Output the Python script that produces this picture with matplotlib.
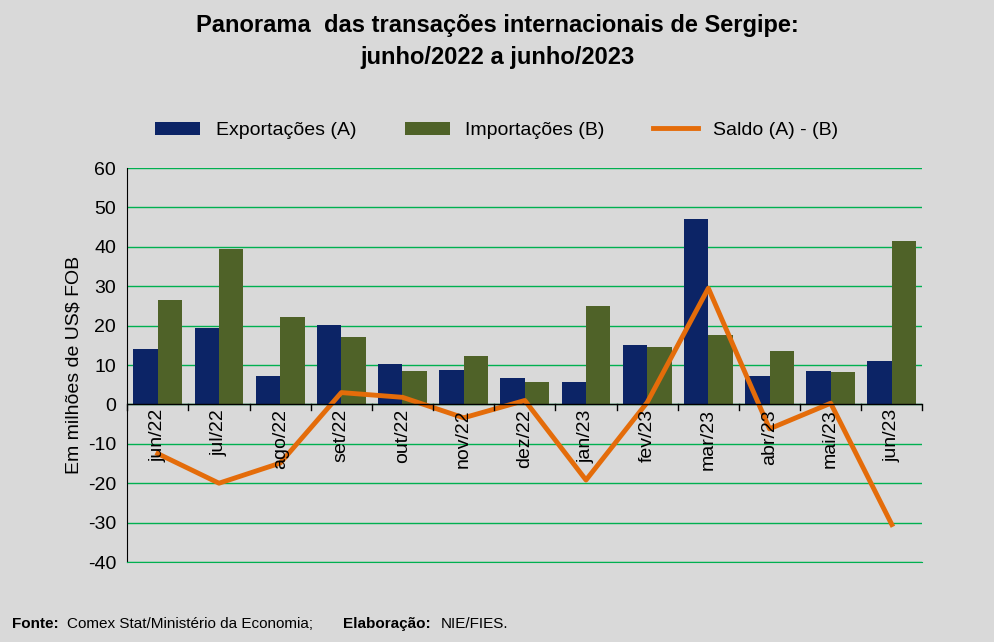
import numpy as np
import matplotlib.pyplot as plt

meses = ['jun/22', 'jul/22', 'ago/22', 'set/22', 'out/22', 'nov/22', 'dez/22',
         'jan/23', 'fev/23', 'mar/23', 'abr/23', 'mai/23', 'jun/23']
exportacoes = [14.0, 19.5, 7.3, 20.2, 10.3, 8.8, 6.8, 5.8, 15.0, 47.0, 7.3, 8.6, 11.0]
importacoes = [26.5, 39.5, 22.2, 17.2, 8.5, 12.2, 5.8, 25.0, 14.5, 17.5, 13.5, 8.3, 41.5]
saldo = [-12.5, -20.0, -14.9, 3.0, 1.8, -3.4, 1.0, -19.2, 0.5, 29.5, -6.2, 0.3, -30.5]

plt.rcParams['font.family'] = ['Liberation Sans', 'DejaVu Sans']
plt.rcParams['axes.unicode_minus'] = False
bg = '#d9d9d9'

fig = plt.figure(figsize=(9.94, 6.42), dpi=100, facecolor=bg)
ax = fig.add_axes([0.128, 0.1246, 0.8, 0.6137], facecolor=bg)

x = np.arange(len(meses))
w = 0.4
b1 = ax.bar(x - w/2, exportacoes, w, color='#0c2466', label='Exportações (A)', zorder=3)
b2 = ax.bar(x + w/2, importacoes, w, color='#4f6228', label='Importações (B)', zorder=3)
l1, = ax.plot(x, saldo, color='#e46c0a', lw=3.5, label='Saldo (A) - (B)', zorder=4)

ax.set_xlim(-0.5, len(meses) - 0.5)
ax.set_ylim(-40, 60)
ax.set_yticks(range(-40, 61, 10))
ax.tick_params(axis='y', labelsize=14, length=0, pad=8)
ax.grid(axis='y', color='#00b050', lw=1, zorder=0)
for s in ['top', 'right']:
    ax.spines[s].set_visible(False)
ax.spines['bottom'].set_color('#00b050')
ax.spines['left'].set_color('black')
ax.axhline(0, color='black', lw=1, zorder=5)
ax.set_xticks([])
for b in np.arange(-0.5, len(meses), 1):
    ax.plot([b, b], [0, -1.5], color='black', lw=1, zorder=5, clip_on=False)
for i, m in enumerate(meses):
    ax.text(i, -1.2, m, rotation=90, ha='center', va='top', fontsize=14, zorder=6)

ax.set_ylabel('Em milhões de US$ FOB', fontsize=14)

fig.text(0.5, 0.935, 'Panorama  das transações internacionais de Sergipe:\njunho/2022 a junho/2023',
         ha='center', va='center', fontsize=17, fontweight='bold', linespacing=1.5)
fig.legend([b1, b2, l1], ['Exportações (A)', 'Importações (B)', 'Saldo (A) - (B)'],
           loc='center', bbox_to_anchor=(0.5, 0.797), ncol=3, frameon=False,
           fontsize=14, handlelength=2.3, columnspacing=2.5)

fig.text(0.012, 0.028, 'Fonte:', fontsize=11, fontweight='bold', ha='left', va='center')
fig.text(0.067, 0.028, 'Comex Stat/Ministério da Economia;', fontsize=11, ha='left', va='center')
fig.text(0.345, 0.028, 'Elaboração:', fontsize=11, fontweight='bold', ha='left', va='center')
fig.text(0.443, 0.028, 'NIE/FIES.', fontsize=11, ha='left', va='center')

fig.savefig('out.png', dpi=100, facecolor=bg)
